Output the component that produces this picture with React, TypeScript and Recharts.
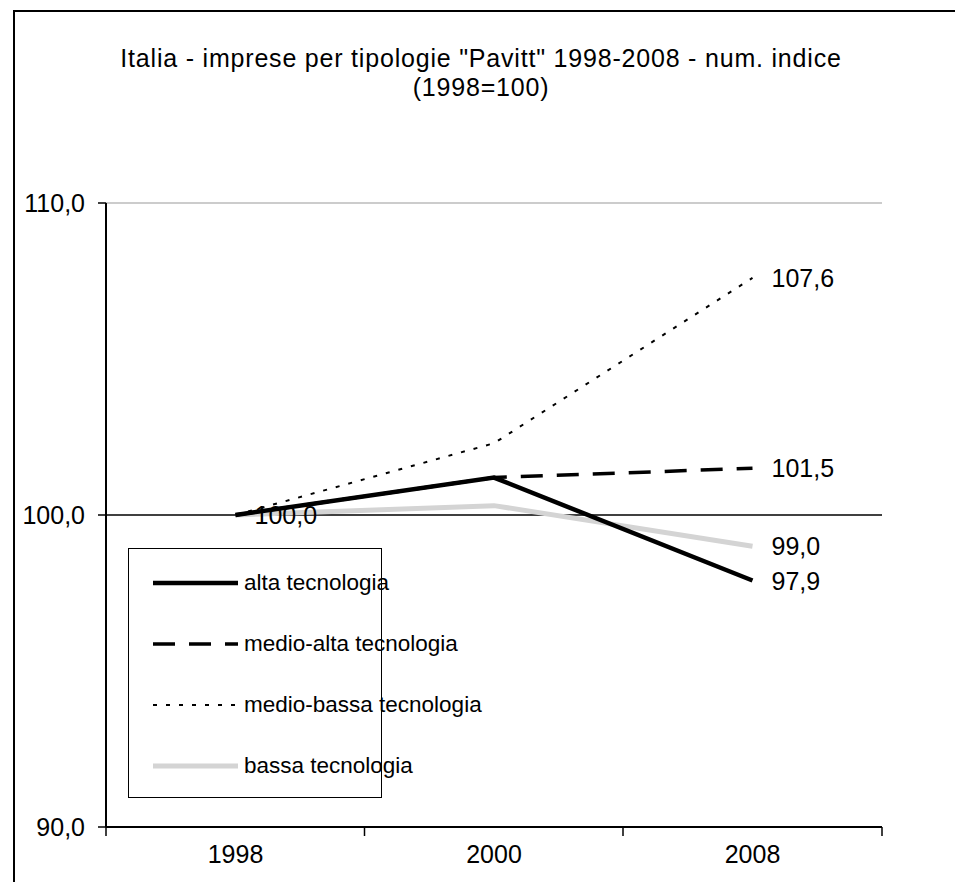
import {
  Legend,
  LabelList,
  Line,
  LineChart,
  ReferenceLine,
  XAxis,
  YAxis,
} from "recharts";

const YEARS = ["1998", "2000", "2008"];
const ALTA = [100.0, 101.2, 97.9];
const MEDIO_ALTA = [100.0, 101.2, 101.5];
const MEDIO_BASSA = [100.0, 102.3, 107.6];
const BASSA = [100.0, 100.3, 99.0];
const Y_TICKS = [90, 100, 110];

const FONT = '"Liberation Sans", Arial, sans-serif';
const PAD = 129.5; // half a category band, points sit in the middle

const SERIES = [
  { key: "bassa", name: "bassa tecnologia", stroke: "#d4d4d4", width: 5, dash: undefined as string | undefined, order: 3 },
  { key: "mbassa", name: "medio-bassa tecnologia", stroke: "#000", width: 2, dash: "4 9", order: 2 },
  { key: "malta", name: "medio-alta tecnologia", stroke: "#000", width: 3.5, dash: "22 14", order: 1 },
  { key: "alta", name: "alta tecnologia", stroke: "#000", width: 4.5, dash: undefined, order: 0 },
];

const data = YEARS.map((year, i) => ({
  year,
  alta: ALTA[i],
  malta: MEDIO_ALTA[i],
  mbassa: MEDIO_BASSA[i],
  bassa: BASSA[i],
}));

const fmt = (v: number) => v.toFixed(1).replace(".", ",");

// only the last point gets a value label (plus 1998 on "alta")
const makeLabel = (showFirst: boolean) => (props: any) => {
  const { x, y, value, index } = props;
  if (index !== YEARS.length - 1 && !(showFirst && index === 0)) return null;
  return (
    <text
      x={x + 19}
      y={y}
      dominantBaseline="central"
      fontSize={25}
      fontFamily={FONT}
      fill="#000"
    >
      {fmt(Number(value))}
    </text>
  );
};

// year label in the middle, tick marks on the band edges
const YearTick = (props: any) => {
  const { x, y, payload, index } = props;
  const last = index === YEARS.length - 1;
  return (
    <g>
      <line x1={x - PAD} x2={x - PAD} y1={y} y2={y + 9} stroke="#000" strokeWidth={1.5} />
      {last && <line x1={x + PAD} x2={x + PAD} y1={y} y2={y + 9} stroke="#000" strokeWidth={1.5} />}
      <text x={x} y={y + 18} dy="0.71em" textAnchor="middle" fontSize={25} fontFamily={FONT} fill="#000">
        {payload.value}
      </text>
    </g>
  );
};

const LegendBox = () => {
  const rows = [...SERIES].sort((a, b) => a.order - b.order);
  return (
    <div
      style={{
        width: 252,
        height: 248,
        border: "1.5px solid #000",
        background: "#fff",
        fontFamily: FONT,
        fontSize: 22.5,
        color: "#000",
        position: "relative",
      }}
    >
      {rows.map((s, i) => (
        <div
          key={s.key}
          style={{
            position: "absolute",
            left: 23,
            top: 34 + i * 61 - 15,
            height: 30,
            display: "flex",
            alignItems: "center",
            whiteSpace: "nowrap",
          }}
        >
          <svg width={86} height={12} style={{ marginRight: 6 }}>
            <line
              x1={1}
              x2={86}
              y1={6}
              y2={6}
              stroke={s.stroke}
              strokeWidth={s.width}
              strokeDasharray={s.dash}
            />
          </svg>
          <span>{s.name}</span>
        </div>
      ))}
    </div>
  );
};

export default function App() {
  return (
    <div
      style={{
        position: "fixed",
        left: 0,
        top: 0,
        width: 955,
        height: 882,
        overflow: "hidden",
        background: "#fff",
        fontFamily: FONT,
      }}
    >
      <div
        style={{
          position: "absolute",
          left: 13,
          top: 10,
          width: 1000,
          height: 1000,
          border: "2px solid #000",
        }}
      />
      <div
        style={{
          position: "absolute",
          left: 0,
          top: 44,
          width: 962,
          textAlign: "center",
          fontSize: 25,
          letterSpacing: 0.8,
          lineHeight: "29px",
          color: "#000",
        }}
      >
        Italia - imprese per tipologie "Pavitt" 1998-2008 - num. indice
        <br />
        (1998=100)
      </div>
      <div style={{ position: "absolute", left: 0, top: 0 }}>
        <LineChart
          width={955}
          height={882}
          data={data}
          margin={{ top: 203, right: 73, bottom: 0, left: 0 }}
        >
          <XAxis
            xAxisId="axisB"
            dataKey="year"
            type="category"
            padding={{ left: PAD, right: PAD }}
            axisLine={{ stroke: "#000", strokeWidth: 2 }}
            tickLine={false}
            tickSize={0}
            tickMargin={0}
            height={55}
            interval={0}
            tick={<YearTick />}
          />
          <XAxis xAxisId="axisA" type="number" domain={[0, 3]} allowDataOverflow height={0} hide />
          <YAxis
            domain={[90, 110]}
            ticks={Y_TICKS}
            width={106}
            tickFormatter={fmt}
            tickSize={8}
            tickMargin={13}
            axisLine={{ stroke: "#000", strokeWidth: 2 }}
            tickLine={{ stroke: "#000", strokeWidth: 1.5 }}
            tick={{ fill: "#000", fontSize: 25, fontFamily: FONT }}
          />
          <ReferenceLine xAxisId="axisB" y={110} stroke="#cccccc" strokeWidth={2} />
          <ReferenceLine xAxisId="axisA" x={3} stroke="#cccccc" strokeWidth={2} />
          <ReferenceLine xAxisId="axisB" y={100} stroke="#000" strokeWidth={1.5} />
          {SERIES.map((s) => (
            <Line
              key={s.key}
              xAxisId="axisB"
              type="linear"
              dataKey={s.key}
              name={s.name}
              stroke={s.stroke}
              strokeWidth={s.width}
              strokeDasharray={s.dash}
              strokeLinejoin="miter"
              dot={false}
              activeDot={false}
              isAnimationActive={false}
            >
              <LabelList dataKey={s.key} content={makeLabel(s.key === "alta")} />
            </Line>
          ))}
          <Legend
            layout="vertical"
            align="center"
            verticalAlign="middle"
            content={() => <LegendBox />}
            wrapperStyle={{ position: "absolute", left: 128, top: 548, width: 254, height: 250 }}
          />
        </LineChart>
      </div>
    </div>
  );
}
